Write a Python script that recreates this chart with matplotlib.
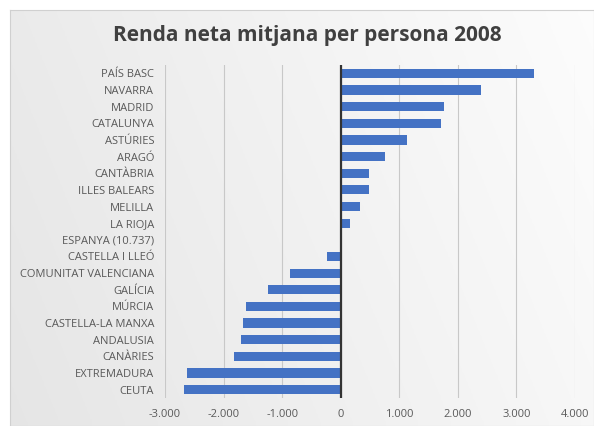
import numpy as np
import matplotlib
matplotlib.use('Agg')
from matplotlib import pyplot as plt

# Data (difference vs. Spain average, euros)
regions = ['PAÍS BASC', 'NAVARRA', 'MADRID', 'CATALUNYA', 'ASTÚRIES', 'ARAGÓ',
           'CANTÀBRIA', 'ILLES BALEARS', 'MELILLA', 'LA RIOJA', 'ESPANYA (10.737)',
           'CASTELLA I LLEÓ', 'COMUNITAT VALENCIANA', 'GALÍCIA', 'MÚRCIA',
           'CASTELLA-LA MANXA', 'ANDALUSIA', 'CANÀRIES', 'EXTREMADURA', 'CEUTA']
values = [3300, 2390, 1760, 1710, 1140, 750, 490, 490, 330, 160, 0,
          -240, -870, -1250, -1610, -1660, -1710, -1830, -2620, -2670]
xticks = [-3000, -2000, -1000, 0, 1000, 2000, 3000, 4000]
xticklabels = ['-3.000', '-2.000', '-1.000', '0', '1.000', '2.000', '3.000', '4.000']

plt.rcParams['font.family'] = ['Open Sans', 'DejaVu Sans']

fig = plt.figure(figsize=(5.94, 4.26), dpi=100)
fig.patch.set_facecolor('white')

# chart area background: light grey gradient, darker on the left
bg_ax = fig.add_axes([10 / 594, 0.0, 1 - 10 / 594, 1 - 10 / 426], zorder=-1)
gx = np.linspace(0, 1, 256)
gy = np.linspace(0, 1, 64)[:, None]
shade = 0.90 + 0.07 * gx[None, :] + 0.02 * gy
bg_ax.imshow(np.dstack([shade] * 3), aspect='auto', extent=(0, 1, 0, 1), origin='lower')
bg_ax.set_xticks([])
bg_ax.set_yticks([])
for s in bg_ax.spines.values():
    s.set_color('#d0d0d0')

ax = fig.add_axes([165 / 594, 1 - 398 / 426, (575 - 165) / 594, (398 - 65) / 426])
ax.set_facecolor('none')

y = np.arange(len(regions))
ax.barh(y, values, height=0.55, color='#4472C4', zorder=3)
ax.set_ylim(len(regions) - 0.5, -0.5)
ax.set_xlim(-3000, 4000)

ax.set_xticks(xticks)
ax.set_xticklabels(xticklabels)
ax.set_yticks(y)
ax.set_yticklabels(regions)
ax.tick_params(axis='both', length=0, labelsize=8, labelcolor='#595959')
ax.tick_params(axis='y', pad=7.8)
ax.tick_params(axis='x', pad=8)

ax.grid(axis='x', color='#c8c8c8', linewidth=0.8, zorder=0)
ax.axvline(0, color='#333333', linewidth=1.6, zorder=4)
for s in ax.spines.values():
    s.set_visible(False)

fig.text(307 / 594, 1 - 36 / 426, 'Renda neta mitjana per persona 2008',
         ha='center', va='center', fontsize=15, fontweight='bold', color='#404040')

plt.savefig('out.png', dpi=100)
plt.close()
